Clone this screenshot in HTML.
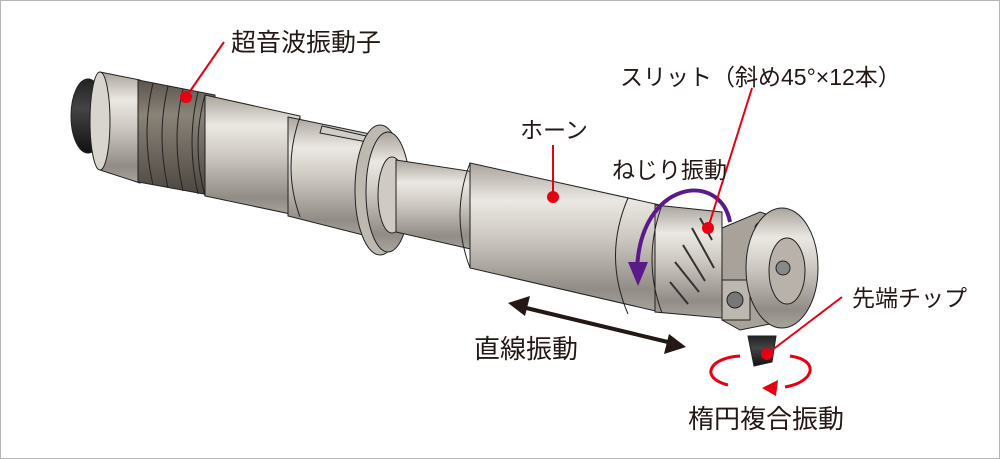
<!DOCTYPE html>
<html><head><meta charset="utf-8"><style>
body{margin:0;background:#fff}
svg{display:block}
text{font-family:"Liberation Sans","Noto Sans CJK JP",sans-serif;fill:#231815}
</style></head><body>
<svg width="1000" height="459" viewBox="0 0 1000 459" xmlns="http://www.w3.org/2000/svg">
<defs>
<linearGradient id="m" x1="0" y1="0" x2="0" y2="1">
<stop offset="0" stop-color="#a9a39b"/><stop offset="0.25" stop-color="#ebe8e3"/><stop offset="0.5" stop-color="#cdc8c1"/><stop offset="0.85" stop-color="#918c85"/><stop offset="1" stop-color="#a8a39c"/></linearGradient>
<linearGradient id="d" x1="0" y1="0" x2="0" y2="1">
<stop offset="0" stop-color="#5a544c"/><stop offset="0.3" stop-color="#8a8378"/><stop offset="1" stop-color="#4a453f"/></linearGradient>
<linearGradient id="k" x1="0" y1="0" x2="0" y2="1">
<stop offset="0" stop-color="#222"/><stop offset="0.4" stop-color="#444"/><stop offset="1" stop-color="#111"/></linearGradient>
</defs>
<rect x="0.5" y="0.5" width="999" height="458" fill="#fff" stroke="#b5b5b5"/>
<g stroke="#222" stroke-width="1">
<ellipse cx="88" cy="116" rx="17" ry="37" fill="url(#k)"/>
<polygon points="100,72 140,80 140,183 100,170" fill="url(#m)"/>
<ellipse cx="100" cy="121" rx="10" ry="49" fill="#d8d4ce"/>
<polygon points="138,80 215,95 215,196 138,182" fill="url(#d)"/>
<path d="M153,83 q-12,50 0,102 M168,86 q-12,50 0,102 M183,89 q-12,50 0,102 M198,92 q-12,50 0,102" fill="none"/>
<polygon points="205,95 300,116 300,216 205,196" fill="url(#m)"/>
<path d="M205,95 q-14,50 0,101" fill="none"/>
<polygon points="288,117 375,135 375,238 288,216" fill="url(#m)"/>
<path d="M300,117 q-18,50 0,100" fill="none"/>
<polygon points="322,126 375,138 372,143 320,133" fill="#d0ccc6"/>
<ellipse cx="380" cy="190" rx="25" ry="65" fill="#bdb8b0"/>
<ellipse cx="388" cy="192" rx="22" ry="60" fill="url(#m)"/>
<ellipse cx="392" cy="195" rx="14" ry="38" fill="#cfcac3"/>
<polygon points="396,160 475,172 475,250 396,232" fill="url(#m)"/>
<polygon points="470,163 660,205 660,312 470,268" fill="url(#m)"/>
<path d="M470,163 q-20,52 0,105" fill="none"/>
<path d="M628,198 q-25,58 0,116" fill="none"/>
<polygon points="655,205 722,212 722,318 655,312" fill="url(#m)"/>
<path d="M662,205 q-20,55 0,108" fill="none"/>
<path d="M700,218 l12,22 M692,228 l22,40 M683,245 l22,36 M675,262 l24,30 M670,282 l18,22" fill="none" stroke="#333" stroke-width="2"/>
<polygon points="722,228 760,212 790,222 790,320 740,330 722,320" fill="#a8a29a"/>
<rect x="722" y="280" width="28" height="40" fill="#bcb7af"/>
<circle cx="735" cy="300" r="8" fill="#777"/>
<ellipse cx="765" cy="228" rx="10" ry="7" fill="#888"/>
<ellipse cx="782" cy="268" rx="36" ry="60" fill="url(#m)"/>
<ellipse cx="787" cy="271" rx="18" ry="33" fill="#b8b2aa"/>
<circle cx="783" cy="268" r="7" fill="#888"/>
<path d="M748,336 l28,0 l-4,26 l-18,4 z" fill="url(#k)"/>
</g>
<g fill="none">
<path d="M730,222 C720,170 640,180 637,270" stroke="#5a1a8a" stroke-width="4"/>
<polygon points="628,262 648,262 638,286" fill="#5a1a8a"/>
<line x1="522" y1="307" x2="672" y2="343" stroke="#231815" stroke-width="4"/>
<polygon points="508,303 530,296 525,316" fill="#231815"/>
<polygon points="686,347 664,354 669,334" fill="#231815"/>
<path d="M728,385 C700,378 708,358 740,356 M790,356 C820,360 815,382 785,387" stroke="#e60012" stroke-width="3"/>
<polygon points="762,388 778,380 776,396" fill="#e60012"/>
</g>
<g stroke="#e60012" stroke-width="2" fill="#e60012">
<line x1="224" y1="42" x2="186" y2="97"/><circle cx="186" cy="97" r="5"/>
<line x1="553" y1="145" x2="553" y2="197"/><circle cx="553" cy="197" r="5"/>
<line x1="752" y1="88" x2="708" y2="228"/><circle cx="708" cy="228" r="5"/>
<line x1="842" y1="297" x2="767" y2="354"/><circle cx="767" cy="354" r="5"/>
</g>
<text x="231" y="51" font-size="25">超音波振動子</text>
<text x="620" y="85" font-size="23">スリット（斜め45°×12本）</text>
<text x="520" y="138" font-size="23">ホーン</text>
<text x="612" y="178" font-size="23">ねじり振動</text>
<text x="474" y="358" font-size="26">直線振動</text>
<text x="852" y="306" font-size="23">先端チップ</text>
<text x="688" y="428" font-size="26">楕円複合振動</text>
</svg>
</body></html>
